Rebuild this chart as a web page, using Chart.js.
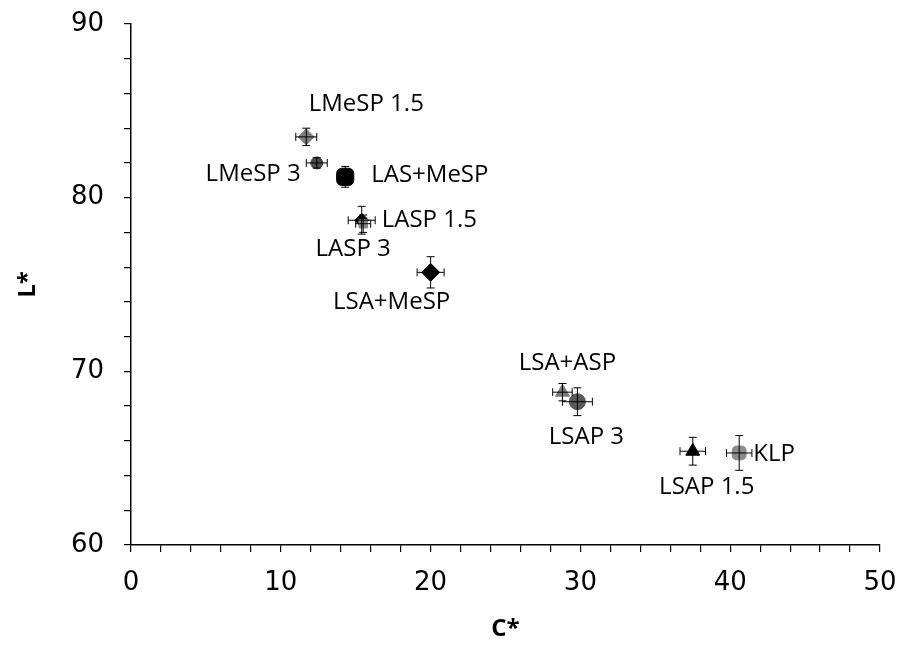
<!DOCTYPE html>
<html>
<head>
<meta charset="utf-8">
<script src="https://cdn.jsdelivr.net/npm/chart.js@4"></script>
<style>
  body { margin: 0; background: #fff; }
  #wrap { width: 907px; height: 648px; }
</style>
</head>
<body>
<div id="wrap"><canvas id="colorChart" width="907" height="648"></canvas></div>
<script>
const samples = ['LMeSP 1.5', 'LMeSP 3', 'LAS+MeSP', 'LASP 1.5', 'LASP 3', 'LSA+MeSP', 'LSA+ASP', 'LSAP 3', 'LSAP 1.5', 'KLP'];
const cValues = [11.7, 12.4, 14.3, 15.4, 15.5, 20.0, 28.8, 29.8, 37.5, 40.6];
const lValues = [83.5, 82.0, 81.2, 78.7, 78.5, 75.7, 68.8, 68.25, 65.4, 65.3];
const cErrors = [0.7, 0.7, 0.3, 0.9, 0.5, 0.9, 0.65, 1.0, 0.85, 0.85];
const lErrors = [0.5, 0.3, 0.6, 0.8, 0.5, 0.9, 0.5, 0.8, 0.8, 1.0];
const xTicks = [0, 10, 20, 30, 40, 50];
const yTicks = [60, 70, 80, 90];

// marker look per sample
const markerStyles = ['rectRot', 'circle', 'rectRounded', 'rectRot', 'rect', 'rectRot', 'triangle', 'circle', 'triangle', 'rectRounded'];
const markerColors = ['#7f7f7f', '#4d4d4d', '#000000', '#000000', '#8c8c8c', '#000000', '#7a7a7a', '#595959', '#000000', '#8c8c8c'];
const markerSizes = [8, 6, 10, 7, 6, 9, 8, 8, 8, 8];

// label placement: [dx, dy, align]
const labelPlace = [
  [60, -33, 'center'], [-16, 11, 'right'], [26, -2, 'left'], [20, 0, 'left'], [-10, 25, 'center'],
  [-39, 30, 'center'], [5, -29, 'center'], [9, 35, 'center'], [14, 36, 'center'], [14, 1, 'left']
];

const labelFont = "'Open Sans', 'Noto Sans', sans-serif";
const tickFont = "'DejaVu Sans', sans-serif";

const errorBars = {
  id: 'errorBars',
  afterDatasetsDraw(chart) {
    const { ctx, scales: { x, y } } = chart;
    ctx.save();
    ctx.strokeStyle = '#000';
    ctx.lineWidth = 1;
    const cap = 4;
    cValues.forEach((c, i) => {
      const px = x.getPixelForValue(c);
      const py = y.getPixelForValue(lValues[i]);
      const x1 = x.getPixelForValue(c - cErrors[i]);
      const x2 = x.getPixelForValue(c + cErrors[i]);
      const y1 = y.getPixelForValue(lValues[i] - lErrors[i]);
      const y2 = y.getPixelForValue(lValues[i] + lErrors[i]);
      ctx.beginPath();
      ctx.moveTo(x1, py); ctx.lineTo(x2, py);
      ctx.moveTo(x1, py - cap); ctx.lineTo(x1, py + cap);
      ctx.moveTo(x2, py - cap); ctx.lineTo(x2, py + cap);
      ctx.moveTo(px, y1); ctx.lineTo(px, y2);
      ctx.moveTo(px - cap, y1); ctx.lineTo(px + cap, y1);
      ctx.moveTo(px - cap, y2); ctx.lineTo(px + cap, y2);
      ctx.stroke();
    });
    ctx.restore();
  }
};

const pointLabels = {
  id: 'pointLabels',
  afterDraw(chart) {
    const { ctx, scales: { x, y } } = chart;
    ctx.save();
    ctx.font = '24px ' + labelFont;
    ctx.fillStyle = '#000';
    ctx.textBaseline = 'middle';
    samples.forEach((s, i) => {
      const p = labelPlace[i];
      ctx.textAlign = p[2];
      ctx.fillText(s, x.getPixelForValue(cValues[i]) + p[0], y.getPixelForValue(lValues[i]) + p[1]);
    });
    ctx.restore();
  }
};

const ctx = document.getElementById('colorChart').getContext('2d');
new Chart(ctx, {
  type: 'scatter',
  data: {
    datasets: [{
      data: cValues.map((c, i) => ({ x: c, y: lValues[i] })),
      pointStyle: markerStyles,
      backgroundColor: markerColors,
      borderColor: markerColors,
      pointRadius: markerSizes,
      pointHoverRadius: markerSizes
    }]
  },
  options: {
    responsive: false,
    animation: false,
    layout: { padding: { top: 24, right: 27, left: 10, bottom: 0 } },
    plugins: { legend: { display: false }, tooltip: { enabled: false } },
    scales: {
      x: {
        type: 'linear', min: 0, max: 50,
        afterBuildTicks(scale) {
          scale.ticks = [];
          for (let v = 0; v <= 50; v += 2) scale.ticks.push({ value: v });
          xTicks.forEach(v => { if (v % 2) scale.ticks.push({ value: v }); });
        },
        afterFit(scale) { scale.height = 103; scale.paddingRight = 0; scale.paddingLeft = 0; },
        border: { color: '#000', width: 1.5 },
        grid: { drawOnChartArea: false, drawTicks: true, tickLength: 7, color: '#000', lineWidth: 1.2 },
        ticks: {
          padding: 16, color: '#000', font: { size: 26, family: tickFont },
          maxRotation: 0, autoSkip: false,
          callback: v => xTicks.includes(v) ? String(v) : ''
        },
        title: { display: true, text: 'C*', color: '#000', font: { size: 24, weight: 'bold', family: labelFont }, padding: { top: 2 } }
      },
      y: {
        type: 'linear', min: 60, max: 90,
        afterBuildTicks(scale) {
          scale.ticks = [];
          for (let v = 60; v <= 90; v += 2) scale.ticks.push({ value: v });
          yTicks.forEach(v => { if (v % 2) scale.ticks.push({ value: v }); });
        },
        afterFit(scale) { scale.width = 121; scale.paddingTop = 0; scale.paddingBottom = 0; },
        border: { color: '#000', width: 1.5 },
        grid: { drawOnChartArea: false, drawTicks: true, tickLength: 7, color: '#000', lineWidth: 1.2 },
        ticks: {
          padding: 20, color: '#000', font: { size: 26, family: tickFont },
          autoSkip: false,
          callback: v => yTicks.includes(v) ? String(v) : ''
        },
        title: { display: true, text: 'L*', color: '#000', font: { size: 24, weight: 'bold', family: labelFont }, padding: { bottom: 10 } }
      }
    }
  },
  plugins: [errorBars, pointLabels]
});
</script>
</body>
</html>
